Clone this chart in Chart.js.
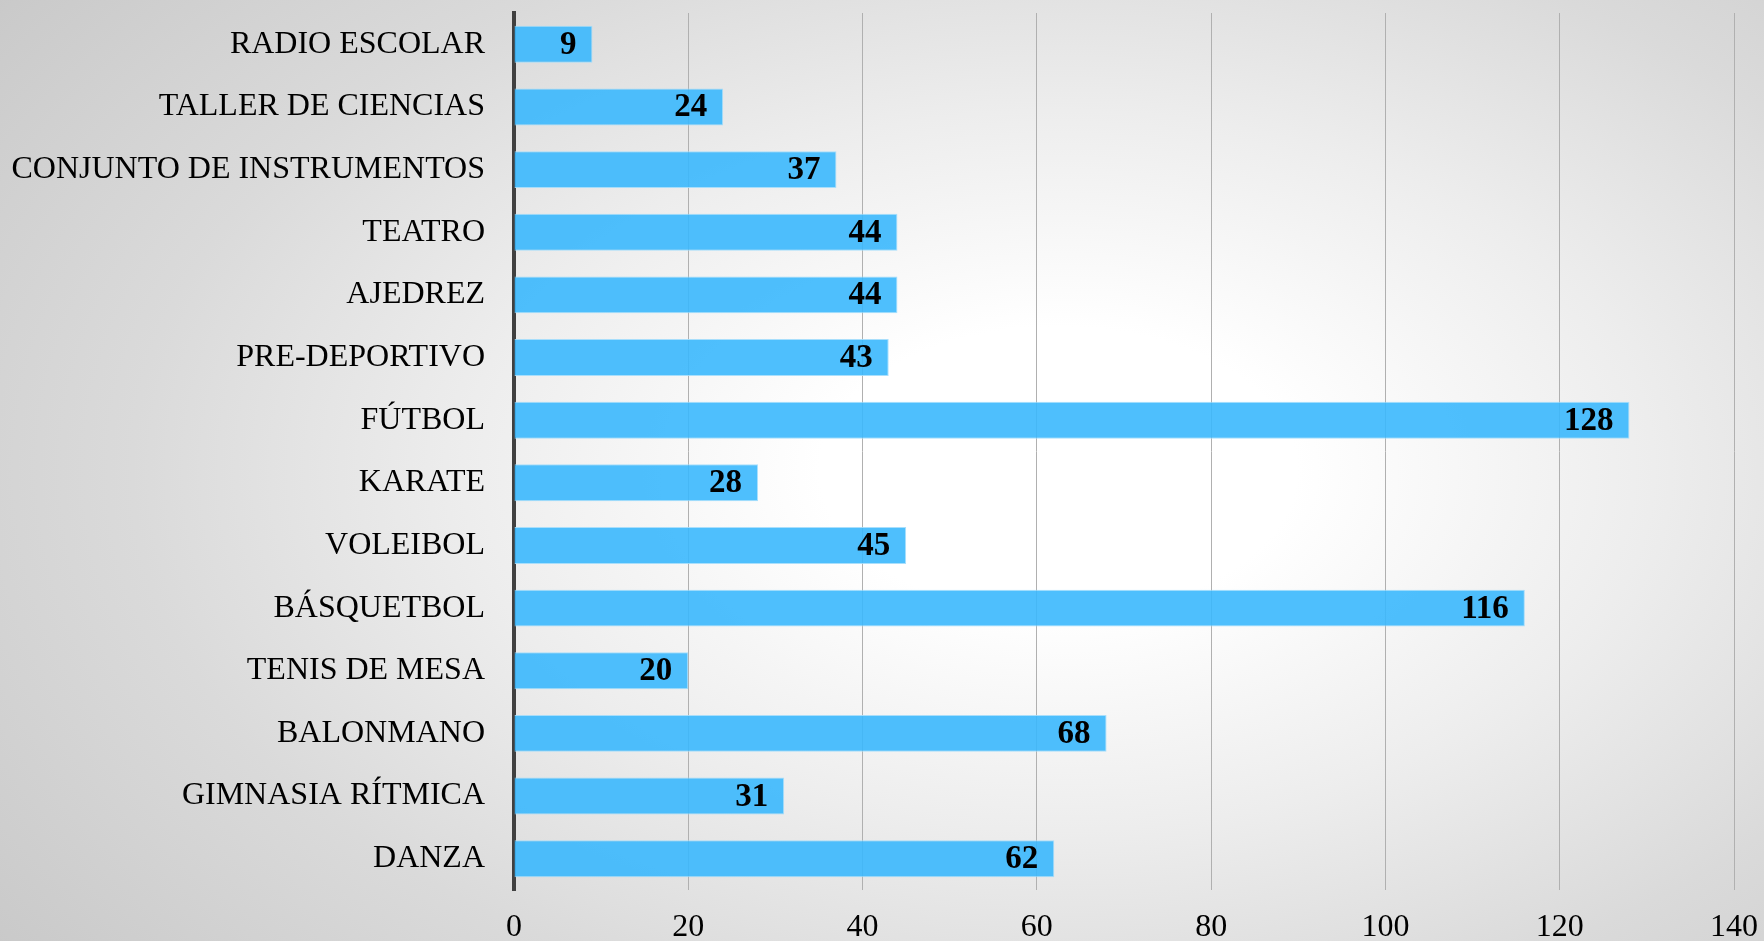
<!DOCTYPE html>
<html>
<head>
<meta charset="utf-8">
<script src="https://cdn.jsdelivr.net/npm/chart.js@4/dist/chart.umd.min.js"></script>
<style>
  html, body { margin: 0; padding: 0; }
  body {
    width: 1764px; height: 941px; overflow: hidden;
    background: radial-gradient(ellipse 75% 85% at 60% 50%, #ffffff 0%, #ffffff 18%, #ededed 45%, #dadada 70%, #c9c9c9 100%);
  }
  canvas { display: block; }
</style>
</head>
<body>
<canvas id="c" width="1764" height="941"></canvas>
<script>
const categories = [
  "RADIO ESCOLAR", "TALLER DE CIENCIAS", "CONJUNTO DE INSTRUMENTOS", "TEATRO",
  "AJEDREZ", "PRE-DEPORTIVO", "FÚTBOL", "KARATE", "VOLEIBOL", "BÁSQUETBOL",
  "TENIS DE MESA", "BALONMANO", "GIMNASIA RÍTMICA", "DANZA"
];
const values = [9, 24, 37, 44, 44, 43, 128, 28, 45, 116, 20, 68, 31, 62];
const xTicks = [0, 20, 40, 60, 80, 100, 120, 140];

const valueLabels = {
  id: 'valueLabels',
  afterDatasetsDraw(chart) {
    const ctx = chart.ctx;
    const meta = chart.getDatasetMeta(0);
    ctx.save();
    ctx.font = 'bold 33px "Liberation Serif", "Times New Roman", serif';
    ctx.fillStyle = '#000000';
    ctx.textAlign = 'right';
    ctx.textBaseline = 'middle';
    meta.data.forEach((bar, i) => {
      ctx.fillText(String(values[i]), bar.x - 16, bar.y + 1);
    });
    ctx.restore();
  }
};

new Chart(document.getElementById('c'), {
  type: 'bar',
  data: {
    labels: categories,
    datasets: [{
      data: values,
      backgroundColor: 'rgba(59,184,253,0.9)',
      borderColor: 'rgba(160,220,252,0.9)',
      borderWidth: 1,
      categoryPercentage: 1,
      barPercentage: 0.59
    }]
  },
  options: {
    indexAxis: 'y',
    responsive: false,
    animation: false,
    layout: { padding: { top: 13, right: 30, left: 0, bottom: 0 } },
    plugins: { legend: { display: false }, tooltip: { enabled: false } },
    scales: {
      x: {
        min: 0, max: 140,
        afterBuildTicks(scale) { scale.ticks = xTicks.map(v => ({ value: v })); },
        afterFit(scale) {
          scale.height = 51;
          scale.paddingLeft = 0; scale.paddingRight = 0;
          scale.paddingTop = 0; scale.paddingBottom = 0;
        },
        grid: { color: '#b0b0b0', lineWidth: 1, drawTicks: false },
        border: { display: false },
        ticks: {
          padding: 18,
          color: '#000000',
          font: { family: '"Liberation Serif", "Times New Roman", serif', size: 32 }
        }
      },
      y: {
        afterFit(scale) {
          scale.width = 514;
          scale.paddingTop = 0; scale.paddingBottom = 0;
          scale.paddingLeft = 0; scale.paddingRight = 0;
        },
        grid: { display: false, drawTicks: false },
        border: { display: true, color: '#404040', width: 4 },
        ticks: {
          padding: 29,
          color: '#000000',
          font: { family: '"Liberation Serif", "Times New Roman", serif', size: 32 }
        }
      }
    }
  },
  plugins: [valueLabels]
});
</script>
</body>
</html>
